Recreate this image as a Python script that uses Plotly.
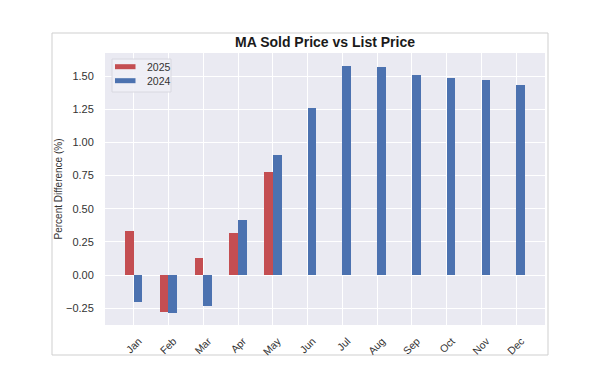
import plotly.graph_objects as go

months = ["Jan", "Feb", "Mar", "Apr", "May", "Jun", "Jul", "Aug", "Sep", "Oct", "Nov", "Dec"]
vals_2025 = [0.334, -0.277, 0.126, 0.314, 0.774]
vals_2024 = [-0.206, -0.289, -0.234, 0.414, 0.904, 1.261, 1.577, 1.570, 1.507, 1.490, 1.469, 1.432]
y_ticks = [-0.25, 0.0, 0.25, 0.5, 0.75, 1.0, 1.25, 1.5]
y_tick_labels = ["\u22120.25", "0.00", "0.25", "0.50", "0.75", "1.00", "1.25", "1.50"]
series_names = ["2025", "2024"]
series_colors = ["#C44E52", "#4C72B0"]

bar_w = 0.25
x_idx = list(range(len(months)))

# plot area in pixels
PL, PR, PT, PB = 105, 545, 53, 325
W, H = 600, 389


def px(x):
    return (x - PL) / (PR - PL)


def py(y):
    return (PB - y) / (PB - PT)


fig = go.Figure()
fig.add_trace(go.Bar(
    x=[i - bar_w / 2 for i in range(len(vals_2025))], y=vals_2025, width=bar_w,
    name=series_names[0], marker=dict(color=series_colors[0], line=dict(width=0)),
    showlegend=False,
))
fig.add_trace(go.Bar(
    x=[i + bar_w / 2 for i in range(len(vals_2024))], y=vals_2024, width=bar_w,
    name=series_names[1], marker=dict(color=series_colors[1], line=dict(width=0)),
    showlegend=False,
))

shapes = [
    # outer frame
    dict(type="rect", xref="paper", yref="paper",
         x0=px(52), x1=px(548), y0=py(355), y1=py(33),
         line=dict(color="#cfcfcf", width=1), fillcolor="rgba(0,0,0,0)", layer="below"),
    # legend box
    dict(type="rect", xref="paper", yref="paper",
         x0=px(112), x1=px(171), y0=py(92), y1=py(59),
         line=dict(color="#d8d8e0", width=1), fillcolor="rgba(240,240,246,0.9)", layer="above"),
]
annotations = []
for k, (nm, col) in enumerate(zip(series_names, series_colors)):
    yc = 66.7 + k * 14
    shapes.append(dict(type="rect", xref="paper", yref="paper",
                       x0=px(115), x1=px(135.5), y0=py(yc + 2.5), y1=py(yc - 2.5),
                       line=dict(width=0), fillcolor=col, layer="above"))
    annotations.append(dict(text=nm, xref="paper", yref="paper", x=px(145), y=py(yc),
                            xanchor="left", yanchor="middle", showarrow=False,
                            font=dict(size=10.5, color="#333333")))

fig.update_layout(
    width=W, height=H, autosize=False,
    margin=dict(l=PL, r=W - PR, t=PT, b=H - PB),
    paper_bgcolor="white", plot_bgcolor="#EAEAF2",
    font=dict(family="Liberation Sans, Arial, sans-serif", color="#262626"),
    barmode="overlay", bargap=0,
    title=dict(text="<b>MA Sold Price vs List Price</b>", x=325 / W, xanchor="center",
               y=1 - 42 / H, yanchor="middle", font=dict(size=14, color="#1a1a1a")),
    showlegend=False,
    shapes=shapes,
    annotations=annotations,
)
fig.update_xaxes(
    range=[-0.825, 11.825], tickmode="array", tickvals=x_idx, ticktext=months,
    tickangle=-45, showgrid=True, gridcolor="white", gridwidth=1, zeroline=False,
    tickfont=dict(size=10.5, color="#333333"), ticks="outside", ticklen=5,
    tickcolor="rgba(0,0,0,0)", showline=False, ticklabelshift=5,
)
fig.update_yaxes(
    range=[-0.377, 1.675], tickmode="array", tickvals=y_ticks, ticktext=y_tick_labels,
    showgrid=True, gridcolor="white", gridwidth=1, zeroline=False,
    tickfont=dict(size=11, color="#333333"), ticks="outside", ticklen=8,
    tickcolor="rgba(0,0,0,0)", showline=False,
    title=dict(text="Percent Difference (%)", font=dict(size=10, color="#333333"), standoff=1),
)

fig.write_html("out.html", config={"displayModeBar": False},
               post_script="document.body.style.margin='0px';")
